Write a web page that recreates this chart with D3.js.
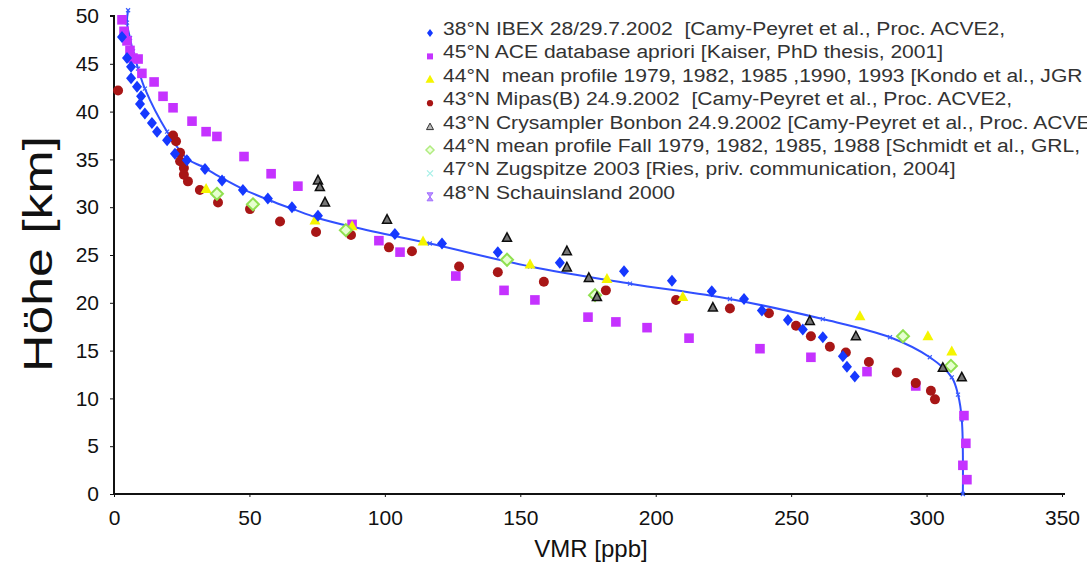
<!DOCTYPE html>
<html>
<head>
<meta charset="utf-8">
<script src="https://cdn.jsdelivr.net/npm/d3@7"></script>
<style>
  body { margin: 0; background: #fff; }
  svg { display: block; font-family: "Liberation Sans", Arial, sans-serif; }
  .legend text { fill: #333; font-size: 18px; white-space: pre; }
</style>
</head>
<body>
<div id="chart"></div>
<script>
// profiles: [VMR ppb, altitude km]
var ibex = [[2.95,47.8],[4.8,45.6],[6.3,44.7],[6.3,43.5],[8.5,42.6],[10,41.6],[9.6,40.8],[11.4,39.8],
  [14,38.8],[15.9,37.9],[19.6,37],[22.5,35.6],[26.9,34.9],[33.6,34],[39.9,32.8],[47.6,31.8],[56.8,30.9],
  [65.7,30],[75.3,29.1],[103.7,27.2],[121.1,26.2],[141.7,25.3],[164.6,24.2],[188.3,23.3],[206,22.3],
  [220.7,21.2],[232.6,20.4],[239.2,19.2],[248.8,18.2],[254.3,17.2],[261.7,16.4],[269.1,14.4],[270.6,13.3],[273.5,12.3]];
var ace = [[2.95,49.6],[3.7,48.4],[4.8,47.4],[5.9,46.4],[7,45.6],[8.9,45.5],[10.3,44],[14.8,43.1],[18.1,41.6],
  [21.8,40.4],[28.8,39],[34,37.9],[38,37.4],[48,35.3],[58,33.5],[67.9,32.2],[87.9,28.2],[97.8,26.5],[105.6,25.3],
  [126.2,22.8],[144,21.3],[155.4,20.3],[175,18.5],[185.3,18],[196.8,17.4],[212.3,16.3],[238.5,15.2],[257.3,14.3],
  [278,12.8],[296,11.3],[313.8,8.2],[314.5,5.3],[313.4,3],[314.9,1.5]];
var kondo = [[34,31.9],[74.2,28.6],[87.9,28],[114.1,26.4],[153.6,24],[182,22.5],[210,20.6],[275.4,18.6],[300.5,16.5],[309.3,14.9]];
var mipas = [[1.5,42.2],[21.8,37.5],[22.9,36.9],[24.4,35.7],[24.4,34.8],[25.8,34.1],[25.8,33.4],[27.3,32.7],[31.7,31.8],
  [38.4,30.5],[50.2,29.8],[61.3,28.5],[74.6,27.4],[87.5,27.1],[101.5,25.8],[110,25.4],[127.4,23.8],[141.7,23.2],
  [158.7,22.2],[181.6,21.3],[207.5,20.3],[227.4,19.4],[241.8,18.9],[251.8,17.6],[257.3,16.5],[264.3,15.4],
  [270.2,14.8],[278.7,13.8],[289,12.7],[296,11.6],[301.6,10.8],[303.1,9.9]];
var crysampler = [[75.3,32.8],[76,32.1],[77.9,30.5],[100.8,28.7],[145.1,26.8],[167.2,25.4],[167.2,23.7],[175.3,22.6],
  [178.3,20.6],[221.1,19.5],[256.9,18.1],[273.9,16.5],[306,13.2],[313,12.2]];
var schmidt = [[38,31.4],[51.3,30.3],[85.6,27.6],[145.1,24.5],[177.6,20.8],[291.3,16.5],[309,13.4]];
var fitLine = [[5.2,50.6],[4.8,49.3],[5.9,47.7],[7,46.3],[8.9,44.5],[11.4,42.4],[19.6,37.9],[26.9,35.1],[32.9,34.2],
  [40.2,33],[47.6,31.9],[57.6,30.7],[66.1,29.8],[74.9,28.9],[87.1,28],[116.6,26.2],[153.6,23.8],[190.5,22],
  [227.4,20.4],[261.7,18.3],[286.5,16.4],[301.2,14.3],[309.3,12.2],[311.6,10.4],[313,7.8],[313.4,0]];

var xTicks = [0, 50, 100, 150, 200, 250, 300, 350];
var yTicks = [0, 5, 10, 15, 20, 25, 30, 35, 40, 45, 50];

var legendLabels = [
  "38°N IBEX 28/29.7.2002  [Camy-Peyret et al., Proc. ACVE2,",
  "45°N ACE database apriori [Kaiser, PhD thesis, 2001]",
  "44°N  mean profile 1979, 1982, 1985 ,1990, 1993 [Kondo et al., JGR",
  "43°N Mipas(B) 24.9.2002  [Camy-Peyret et al., Proc. ACVE2,",
  "43°N Crysampler Bonbon 24.9.2002 [Camy-Peyret et al., Proc. ACVE",
  "44°N mean profile Fall 1979, 1982, 1985, 1988 [Schmidt et al., GRL,",
  "47°N Zugspitze 2003 [Ries, priv. communication, 2004]",
  "48°N Schauinsland 2000"
];

var W = 1087, H = 566;
var svg = d3.select("#chart").append("svg").attr("width", W).attr("height", H);

svg.append("defs").append("filter").attr("id", "soft")
  .append("feGaussianBlur").attr("stdDeviation", 0.45);

var x = d3.scaleLinear().domain([0, 350]).range([114, 1062]);
var y = d3.scaleLinear().domain([0, 50]).range([494, 16]);

// axes
var yAxis = svg.append("g")
  .attr("transform", "translate(" + x(0) + ",0)")
  .call(d3.axisLeft(y).tickValues(yTicks).tickSize(4).tickPadding(11));
var xAxis = svg.append("g")
  .attr("transform", "translate(0," + y(0) + ")")
  .call(d3.axisBottom(x).tickValues(xTicks).tickSize(3).tickPadding(13));
[xAxis, yAxis].forEach(function(a) {
  a.select(".domain").attr("stroke", "#111").attr("stroke-width", 2);
  a.selectAll(".tick line").attr("stroke", "#111");
  a.selectAll(".tick text").attr("fill", "#111").style("font-size", "21px").style("font-family", "Liberation Sans, Arial");
});
yAxis.select(".domain").attr("d", "M-4," + y(50) + "H0V" + y(0));
xAxis.select(".domain").attr("d", "M" + x(0) + ",0H" + (x(350) + 3));

svg.append("text")
  .attr("transform", "translate(52,254) rotate(-90)")
  .attr("text-anchor", "middle")
  .attr("textLength", 236).attr("lengthAdjust", "spacingAndGlyphs")
  .style("font-size", "41px").attr("fill", "#111")
  .text("Höhe [km]");
svg.append("text")
  .attr("x", 591).attr("y", 557)
  .attr("text-anchor", "middle")
  .style("font-size", "24px").attr("fill", "#111")
  .text("VMR [ppb]");

var marks = svg.append("g").attr("filter", "url(#soft)");

// fitted profile line with small tick marks
var line = d3.line().x(function(d) { return x(d[0]); }).y(function(d) { return y(d[1]); })
  .curve(d3.curveCatmullRom);
marks.append("path").datum(fitLine)
  .attr("fill", "none").attr("stroke", "#3050ff").attr("stroke-width", 2)
  .attr("d", line);
marks.append("g").selectAll("path").data(fitLine).enter().append("path")
  .attr("transform", function(d) { return "translate(" + x(d[0]) + "," + y(d[1]) + ")"; })
  .attr("d", "M-2,-2L2,2M-2,2L2,-2")
  .attr("stroke", "#3a5cff").attr("stroke-width", 1.2);

function drawSeries(data, shape, fill, stroke, sw) {
  marks.append("g").selectAll("path").data(data).enter().append("path")
    .attr("transform", function(d) { return "translate(" + x(d[0]) + "," + y(d[1]) + ")"; })
    .attr("d", shape)
    .attr("fill", fill)
    .attr("stroke", stroke)
    .attr("stroke-width", sw);
}

var diamond = "M0,-6L5,0L0,6L-5,0Z";
var square = "M-4.8,-4.8H4.8V4.8H-4.8Z";
var tri = "M0,-6L5.5,4H-5.5Z";
var smallTri = "M0,-5L4.5,3.5H-4.5Z";
var greenDia = "M0,-6L6,0L0,6L-6,0Z";

drawSeries(ace, square, "#c533ff", "none", 0);
drawSeries(mipas, d3.symbol().type(d3.symbolCircle).size(78)(), "#a81414", "none", 0);
drawSeries(kondo, tri, "#f5f500", "none", 0);
drawSeries(schmidt, greenDia, "#e6ffd0", "#90e050", 2);
drawSeries(crysampler, smallTri, "#777", "#111", 1.5);
drawSeries(ibex, diamond, "#1438ff", "none", 0);

// legend
var legendMarks = [
  {d: "M0,-4L3,0L0,4L-3,0Z", fill: "#1438ff", stroke: "none"},
  {d: "M-3,-3H3V3H-3Z", fill: "#c533ff", stroke: "none"},
  {d: "M0,-5L4.5,3H-4.5Z", fill: "#f5f500", stroke: "none"},
  {d: d3.symbol().type(d3.symbolCircle).size(30)(), fill: "#a81414", stroke: "none"},
  {d: "M0,-3.5L3.5,3H-3.5Z", fill: "#bbb", stroke: "#333", sw: 1},
  {d: "M0,-4L4,0L0,4L-4,0Z", fill: "#f0ffe0", stroke: "#b0ec80", sw: 1.5},
  {d: "M-3,-3L3,3M-3,3L3,-3", fill: "none", stroke: "#a8f0e8", sw: 1.3},
  {d: "M-3,-4H3L-3,4H3Z", fill: "#c090ff", stroke: "#a070ff", sw: 1}
];
var legend = svg.append("g").attr("class", "legend");
var rows = legend.selectAll("g").data(legendLabels).enter().append("g")
  .attr("transform", function(d, i) { return "translate(430," + (29 + i * 23.4) + ")"; });
rows.append("path")
  .attr("d", function(d, i) { return legendMarks[i].d; })
  .attr("transform", "translate(0,4)")
  .attr("fill", function(d, i) { return legendMarks[i].fill; })
  .attr("stroke", function(d, i) { return legendMarks[i].stroke; })
  .attr("stroke-width", function(d, i) { return legendMarks[i].sw || 0; });
rows.append("text")
  .attr("x", 13).attr("y", 6)
  .text(function(d) { return d; })
  .each(function() {
    // the original lettering is drawn wider than the font's natural width
    var w = this.getComputedTextLength();
    d3.select(this).attr("textLength", w * 1.17).attr("lengthAdjust", "spacingAndGlyphs");
  });
</script>
</body>
</html>
